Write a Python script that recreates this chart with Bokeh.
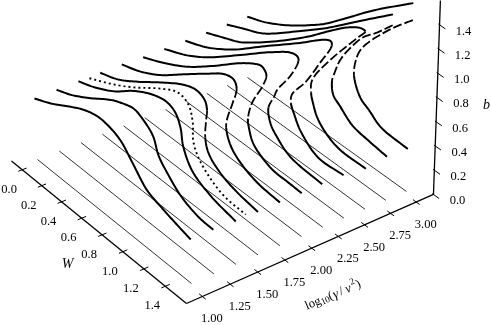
import numpy as np
from bokeh.plotting import figure
from bokeh.models import Range1d
from bokeh.core.properties import value
from bokeh.embed import file_html
from bokeh.resources import INLINE

# ---- data: log10(gamma/nu^2) of each slice, W and b along each slice ----
LOG_GAMMA = [1.0, 1.2, 1.4, 1.6, 1.8, 2.0, 2.2, 2.4, 2.6, 2.8, 3.0]
THIN_W = [0.0, 1.5]
THIN_B = [0.0, 0.0]

W_10 = [0, .17, .34, .50, .64, .76, .86, .97, 1.10, 1.24, 1.38, 1.50]
B_10 = [.50, .57, .66, .74, .78, .77, .73, .62, .49, .44, .40, .37]
W_12 = [0, .16, .35, .55, .64, .77, .86, .95, 1.00, 1.08, 1.20, 1.36, 1.50]
B_12 = [.50, .56, .66, .78, .82, .86, .83, .76, .63, .54, .44, .38, .37]
W_14 = [0, .15, .36, .55, .72, .86, .95, 1.00, 1.02, 1.10, 1.27, 1.50]
B_14 = [.50, .55, .65, .78, .87, .91, .88, .78, .65, .50, .41, .36]
W_15 = [0, .21, .44, .71, .87, .97, 1.01, 1.01, 1.05, 1.14, 1.29, 1.49]
B_15 = [.49, .58, .70, .87, .95, .92, .79, .65, .55, .46, .385, .37]

W_16_UP = [0, .18, .38, .60, .82, .94, 1.02, 1.04]
B_16_UP = [.50, .56, .67, .81, .94, .98, .95, .88]
W_16_FOLD = [1.04, 1.03, 1.02]
B_16_FOLD = [.88, .79, .64]
W_16_LOW = [1.02, 1.05, 1.16, 1.31, 1.50]
B_16_LOW = [.64, .53, .44, .39, .36]

W_18_UP = [0, .19, .39, .61, .84, .99, 1.08, 1.11]
B_18_UP = [.50, .56, .66, .81, .97, 1.07, 1.09, 1.03]
W_18_FOLD = [1.11, 1.07, 1.02, 1.01]
B_18_FOLD = [1.03, .88, .72, .64]
W_18_LOW = [1.01, 1.05, 1.14, 1.30, 1.50]
B_18_LOW = [.64, .52, .44, .38, .36]

W_20_UP = [0, .20, .44, .69, .94, 1.08, 1.13, 1.16, 1.18]
B_20_UP = [.49, .57, .69, .86, 1.05, 1.14, 1.16, 1.15, 1.11]
W_20_FOLD = [1.18, 1.14, 1.05, 1.01]
B_20_FOLD = [1.11, .99, .80, .64]
W_20_LOW = [1.01, 1.02, 1.05, 1.10, 1.24, 1.37, 1.50]
B_20_LOW = [.64, .565, .48, .43, .37, .365, .36]

W_22_UP = [0, .23, .43, .74, 1.02, 1.20, 1.26, 1.27]
B_22_UP = [.49, .58, .69, .91, 1.12, 1.24, 1.25, 1.22]
W_22_FOLD = [1.27, 1.20, 1.08, 1.05, 1.00]
B_22_FOLD = [1.22, 1.05, .85, .77, .65]
W_22_LOW = [1.00, 1.02, 1.08, 1.20, 1.49]
B_22_LOW = [.65, .53, .46, .38, .35]

W_24_UP = [0, .22, .47, .77, 1.09, 1.30, 1.36, 1.37]
B_24_UP = [.49, .57, .71, .93, 1.17, 1.34, 1.37, 1.34]
W_24_FOLD = [1.37, 1.27, 1.14, 1.02, 1.01]
B_24_FOLD = [1.34, 1.13, .88, .70, .62]
W_24_LOW = [1.01, 1.04, 1.10, 1.26, 1.49]
B_24_LOW = [.62, .55, .45, .34, .35]

W_26_UP = [0, .19, .34, .65, .96, 1.17, 1.32, 1.43, 1.47]
B_26_UP = [.49, .56, .62, .82, 1.06, 1.25, 1.38, 1.45, 1.45]
W_26_FOLD = [1.47, 1.41, 1.17, 1.01, 1.00]
B_26_FOLD = [1.45, 1.36, 1.01, .74, .63]
W_26_LOW = [1.00, 1.02, 1.06, 1.15, 1.27, 1.50]
B_26_LOW = [.63, .55, .46, .38, .335, .335]

W_28_UP = [0, .15, .33, .45, .71, .92, 1.07, 1.27, 1.52]
B_28_UP = [.49, .55, .62, .69, .875, 1.03, 1.155, 1.33, 1.55]
W_28_FOLD = [1.52, 1.38, 1.27, 1.16, 1.07, 1.02, 1.00]
B_28_FOLD = [1.46, 1.30, 1.19, 1.03, .87, .73, .66]
W_28_LOW = [1.00, 1.01, 1.08, 1.19, 1.35, 1.50]
B_28_LOW = [.66, .55, .49, .41, .38, .36]

W_30_UP = [0, .18, .42, .61, .73, .92, 1.17, 1.51]
B_30_UP = [.49, .55, .67, .79, .875, 1.04, 1.27, 1.56]
W_30_FOLD = [1.51, 1.36, 1.24, 1.13, 1.06, 1.02, 1.01]
B_30_FOLD = [1.42, 1.26, 1.12, .98, .87, .75, .63]
W_30_LOW = [1.01, 1.07, 1.15, 1.26, 1.50]
B_30_LOW = [.63, .49, .44, .37, .35]

X_TICKS = [1.00, 1.25, 1.50, 1.75, 2.00, 2.25, 2.50, 2.75, 3.00]
W_TICKS = [0.0, 0.2, 0.4, 0.6, 0.8, 1.0, 1.2, 1.4]
B_TICKS = [0.0, 0.2, 0.4, 0.6, 0.8, 1.0, 1.2, 1.4]

# ---- view: box limits and the camera of the 3D projection ----
X_MIN, X_MAX = 0.828, 3.139
W_MIN, W_NEAR, W_FAR = -0.074, 1.632, 1.613
B_MAX = 1.62
X_TICK_SHIFT, W_TICK_SHIFT = -0.03, 0.037
CAMERA = np.array([[112.767477, 97.749667, -74.951009],
                   [-40.205599, 73.848693, 202.714204],
                   [0.022067, -0.037605, 1.0]])
VANISH_U, VANISH_V, VANISH_K = 268.0, 4800.0, 38.0


def project(x, w, b):
    x, w, b = np.broadcast_arrays(np.asarray(x, float), np.asarray(w, float), np.asarray(b, float))
    q = CAMERA @ np.vstack([np.atleast_1d(x), np.atleast_1d(w), np.ones_like(np.atleast_1d(x))])
    u, v = q[0] / q[2], q[1] / q[2]
    b = np.atleast_1d(b)
    return u + b * (u - VANISH_U) / VANISH_K, v + b * (v - VANISH_V) / VANISH_K


def axis_w(x):
    return W_NEAR + (x - X_MIN) / (X_MAX - X_MIN) * (W_FAR - W_NEAR)


def spline_path(u, v, n=10):
    """Curve rendering only: a centripetal Catmull-Rom path through the read values."""
    P = np.column_stack([u, v]).astype(float)
    P = np.vstack([2 * P[0] - P[1], P, 2 * P[-1] - P[-2]])
    out = []
    for i in range(1, len(P) - 2):
        p0, p1, p2, p3 = P[i - 1], P[i], P[i + 1], P[i + 2]
        t0 = 0.0
        t1 = t0 + max(np.linalg.norm(p1 - p0), 1e-6) ** 0.5
        t2 = t1 + max(np.linalg.norm(p2 - p1), 1e-6) ** 0.5
        t3 = t2 + max(np.linalg.norm(p3 - p2), 1e-6) ** 0.5
        for t in np.linspace(t1, t2, n, endpoint=False):
            a1 = (t1 - t) / (t1 - t0) * p0 + (t - t0) / (t1 - t0) * p1
            a2 = (t2 - t) / (t2 - t1) * p1 + (t - t1) / (t2 - t1) * p2
            a3 = (t3 - t) / (t3 - t2) * p2 + (t - t2) / (t3 - t2) * p3
            b1 = (t2 - t) / (t2 - t0) * a1 + (t - t0) / (t2 - t0) * a2
            b2 = (t3 - t) / (t3 - t1) * a2 + (t - t1) / (t3 - t1) * a3
            out.append((t2 - t) / (t2 - t1) * b1 + (t - t1) / (t2 - t1) * b2)
    out.append(P[-2])
    out = np.array(out)
    return out[:, 0], out[:, 1]


p = figure(width=491, height=325, output_backend="svg", toolbar_location=None,
           x_range=Range1d(0, 491), y_range=Range1d(325, 0),
           min_border=0, outline_line_color=None, background_fill_color="white")
p.xaxis.visible = False
p.yaxis.visible = False
p.grid.visible = False
p.styles = {"position": "fixed", "left": "0px", "top": "0px"}

# thin floor lines
for x in LOG_GAMMA:
    u, v = project(x, THIN_W, THIN_B)
    p.line(u, v, line_color="black", line_width=0.8)

# thick curves
SOLID = dict(line_color="black", line_width=2.0, line_join="round")
DASH = dict(line_color="black", line_width=1.8, line_join="round", line_dash="9 3")
DOT = dict(line_color="black", line_width=1.9, line_dash="2 3")
N = 10


def draw_parts(x, parts, styles):
    """Join the parts of one curve, smooth them together, draw each in its style."""
    w, b, cuts = [], [], [0]
    for pw, pb in parts:
        if w:
            pw, pb = pw[1:], pb[1:]
        w += list(pw)
        b += list(pb)
        cuts.append(len(w) - 1)
    su, sv = spline_path(*project(x, w, b), n=N)
    for i, st in enumerate(styles):
        a, z = cuts[i] * N, cuts[i + 1] * N + 1
        p.line(su[a:z], sv[a:z], **st)


for x, w, b in [(1.0, W_10, B_10), (1.2, W_12, B_12), (1.4, W_14, B_14)]:
    draw_parts(x, [(w, b)], [SOLID])
draw_parts(1.5, [(W_15, B_15)], [DOT])

FOLDED = [
    (1.6, W_16_UP, B_16_UP, W_16_FOLD, B_16_FOLD, W_16_LOW, B_16_LOW),
    (1.8, W_18_UP, B_18_UP, W_18_FOLD, B_18_FOLD, W_18_LOW, B_18_LOW),
    (2.0, W_20_UP, B_20_UP, W_20_FOLD, B_20_FOLD, W_20_LOW, B_20_LOW),
    (2.2, W_22_UP, B_22_UP, W_22_FOLD, B_22_FOLD, W_22_LOW, B_22_LOW),
    (2.4, W_24_UP, B_24_UP, W_24_FOLD, B_24_FOLD, W_24_LOW, B_24_LOW),
    (2.6, W_26_UP, B_26_UP, W_26_FOLD, B_26_FOLD, W_26_LOW, B_26_LOW),
]
for x, wu, bu, wf, bf, wl, bl in FOLDED:
    draw_parts(x, [(wu, bu), (wf, bf), (wl, bl)], [SOLID, DASH, SOLID])
for x, wu, bu, wf, bf, wl, bl in [(2.8, W_28_UP, B_28_UP, W_28_FOLD, B_28_FOLD, W_28_LOW, B_28_LOW),
                                  (3.0, W_30_UP, B_30_UP, W_30_FOLD, B_30_FOLD, W_30_LOW, B_30_LOW)]:
    draw_parts(x, [(wu, bu)], [SOLID])
    draw_parts(x, [(wf, bf), (wl, bl)], [DASH, SOLID])

# box axes
AX = dict(line_color="black", line_width=1.3)
u, v = project([X_MIN, X_MIN], [W_MIN, W_NEAR], [0, 0])
p.line(u, v, **AX)
u, v = project([X_MIN, X_MAX], [W_NEAR, W_FAR], [0, 0])
p.line(u, v, **AX)
u, v = project([X_MAX, X_MAX], [W_FAR, W_FAR], [0, B_MAX])
p.line(u, v, **AX)

FONT = value("Liberation Serif")
TXT = dict(text_font=FONT, text_font_size="12.5px", text_color="black",
           text_align="center", text_baseline="middle")
TICK = dict(line_color="black", line_width=1.0)

for t in X_TICKS:
    x = t + X_TICK_SHIFT
    wa = axis_w(x)
    u, v = project([x, x], [wa - 0.03, wa + 0.03], [0, 0])
    p.line(u, v, **TICK)
    u, v = project(x, wa, 0)
    p.text(u, v, text=["%.2f" % t], x_offset=9.5, y_offset=22, **TXT)

for t in W_TICKS:
    w = t + W_TICK_SHIFT
    u, v = project([X_MIN - 0.035, X_MIN + 0.04], [w, w], [0, 0])
    p.line(u, v, **TICK)
    u, v = project(X_MIN, w, 0)
    p.text(u, v, text=["%.1f" % t], x_offset=-13, y_offset=19, **TXT)

for t in B_TICKS:
    u, v = project([X_MAX, X_MAX], [W_FAR - 0.01, W_FAR + 0.05], [t, t])
    p.line(u, v, **TICK)
    u, v = project(X_MAX, W_FAR, t)
    p.text(u, v, text=["%.1f" % t], x_offset=24, y_offset=6, **TXT)

# axis titles
TITLE_I = dict(TXT, text_font_style="italic", text_font_size="14px")
p.text([67], [263], text=["W"], **TITLE_I)
p.text([486], [104], text=["b"], **TITLE_I)

ANGLE = np.radians(23.0)
pen = 0.0
X0, Y0 = 305.0, 305.5
PIECES = [("log", "normal", 12.5, 0, 16.0), ("10", "normal", 9.0, 2.5, 9.0), ("(", "normal", 12.5, 0, 5.0),
          ("γ", "italic", 13.0, 0, 6.8), ("/", "normal", 12.5, 0, 6.5), ("ν", "italic", 13.0, 0, 6.8),
          ("2", "normal", 9.0, -4.5, 5.0), (")", "normal", 12.5, 0, 5.0)]
for s, style, size, drop, adv in PIECES:
    tx = X0 + pen * np.cos(ANGLE) + drop * np.sin(ANGLE)
    ty = Y0 - pen * np.sin(ANGLE) + drop * np.cos(ANGLE)
    p.text([tx], [ty], text=[s], angle=ANGLE, text_font=FONT, text_font_size="%.1fpx" % size,
           text_font_style=style, text_color="black", text_align="left", text_baseline="alphabetic")
    pen += adv

open("out.html", "w").write(file_html(p, INLINE))
